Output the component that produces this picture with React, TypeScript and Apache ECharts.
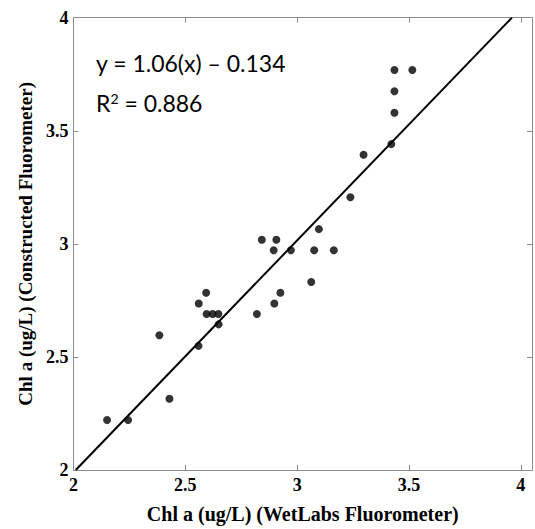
import React, { useEffect, useRef } from "react";
import * as echarts from "echarts";

const wetLabs: number[] = [
  3.435, 3.515, 3.435, 3.435, 3.421, 3.297, 3.238, 3.097, 2.842, 2.907,
  2.895, 2.972, 3.076, 3.164, 3.063, 2.593, 2.925, 2.56, 2.898, 2.595,
  2.622, 2.648, 2.82, 2.649, 2.384, 2.559, 2.429, 2.15, 2.244,
];
const constructed: number[] = [
  3.769, 3.769, 3.675, 3.58, 3.441, 3.394, 3.206, 3.065, 3.018, 3.018,
  2.972, 2.972, 2.972, 2.972, 2.831, 2.784, 2.784, 2.736, 2.736, 2.69,
  2.69, 2.69, 2.69, 2.644, 2.596, 2.549, 2.315, 2.221, 2.221,
];
const fitX: number[] = [2.01, 3.96];
const fitY: number[] = [2.0, 4.0];
const xTicks: number[] = [2, 2.5, 3, 3.5, 4];
const yTicks: number[] = [2, 2.5, 3, 3.5, 4];

const xTitle = "Chl a (ug/L) (WetLabs Fluorometer)";
const yTitle = "Chl a (ug/L) (Constructed Fluorometer)";
const eqLine = "y = 1.06(x) \u2013 0.134";

const serif = "'Liberation Serif', 'Times New Roman', serif";
const sans = "Lato, 'Open Sans', sans-serif";
const axisGrey = "#8c8c8c";

const fmt = (ticks: number[]) => (v: number) =>
  ticks.some((t) => Math.abs(t - v) < 1e-6) ? String(v) : "";

export default function App() {
  const ref = useRef<HTMLDivElement>(null);
  useEffect(() => {
    document.body.style.margin = "0";
    if (!ref.current) return;
    const chart = echarts.init(ref.current, undefined, { renderer: "svg" });
    const points = wetLabs.map((x, i) => [x, constructed[i]]);
    const fit = fitX.map((x, i) => [x, fitY[i]]);
    const labelStyle = {
      fontFamily: serif,
      fontWeight: "bold" as const,
      fontSize: 18,
      color: "#000",
    };
    chart.setOption({
      animation: false,
      backgroundColor: "#fff",
      grid: { left: 73.5, top: 17.7, right: 1, bottom: 52.3, containLabel: false },
      xAxis: [
        {
          type: "value",
          min: 2,
          max: 4.05,
          interval: 0.5,
          position: "bottom",
          name: xTitle,
          nameLocation: "middle",
          nameGap: 34,
          nameTextStyle: { ...labelStyle, fontSize: 20 },
          axisLine: { show: true, lineStyle: { color: axisGrey, width: 1 } },
          axisTick: { show: true, inside: true, length: 5, lineStyle: { color: axisGrey } },
          axisLabel: { ...labelStyle, margin: 6, formatter: fmt(xTicks) },
          splitLine: { show: false },
        },
        {
          type: "value",
          min: 2,
          max: 4.05,
          interval: 0.5,
          position: "top",
          axisLine: { show: true, lineStyle: { color: axisGrey, width: 1 } },
          axisTick: { show: true, inside: true, length: 5, lineStyle: { color: axisGrey } },
          axisLabel: { show: false },
          splitLine: { show: false },
        },
      ],
      yAxis: [
        {
          type: "value",
          min: 2,
          max: 4,
          interval: 0.5,
          position: "left",
          name: yTitle,
          nameLocation: "middle",
          nameGap: 38,
          nameRotate: 90,
          nameTextStyle: { ...labelStyle, fontSize: 19 },
          axisLine: { show: true, lineStyle: { color: axisGrey, width: 1 } },
          axisTick: { show: true, inside: true, length: 5, lineStyle: { color: axisGrey } },
          axisLabel: { ...labelStyle, margin: 5, formatter: fmt(yTicks) },
          splitLine: { show: false },
        },
        {
          type: "value",
          min: 2,
          max: 4,
          interval: 0.5,
          position: "right",
          axisLine: { show: true, lineStyle: { color: axisGrey, width: 1 } },
          axisTick: { show: true, inside: true, length: 5, lineStyle: { color: axisGrey } },
          axisLabel: { show: false },
          splitLine: { show: false },
        },
      ],
      series: [
        {
          type: "line",
          data: fit,
          xAxisIndex: 0,
          yAxisIndex: 0,
          showSymbol: false,
          symbol: "none",
          lineStyle: { color: "#000", width: 2 },
          z: 2,
        },
        {
          type: "scatter",
          data: points,
          xAxisIndex: 0,
          yAxisIndex: 0,
          symbol: "circle",
          symbolSize: 8,
          itemStyle: { color: "#000" },
          z: 3,
        },
      ],
      graphic: [
        {
          type: "text",
          left: 96,
          top: 51,
          style: {
            text: eqLine,
            font: `23px ${sans}`,
            fill: "#000",
          },
        },
        {
          type: "text",
          left: 96,
          top: 91,
          style: {
            text: "R{sup|2} = 0.886",
            font: `23px ${sans}`,
            fill: "#000",
            rich: {
              sup: { fontSize: 14, fontFamily: sans, verticalAlign: "top", padding: [0, 0, 10, 0], fill: "#000" },
            },
          },
        },
      ],
    });
    return () => chart.dispose();
  }, []);
  return <div ref={ref} style={{ width: 535, height: 529 }} />;
}
